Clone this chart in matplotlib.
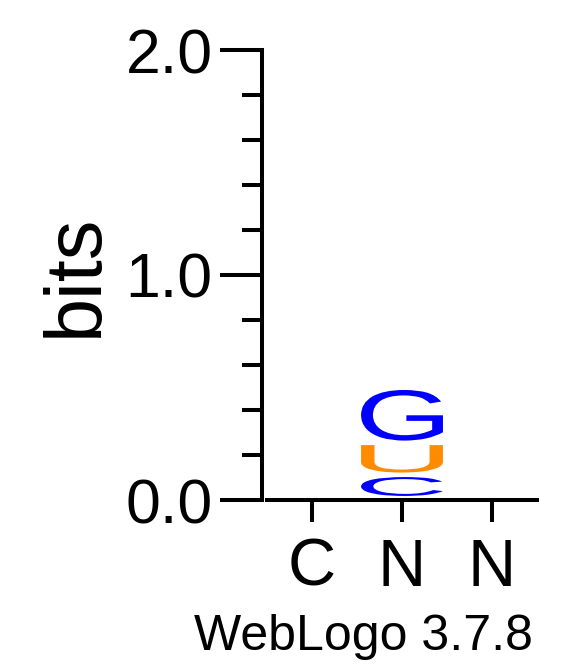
import matplotlib
matplotlib.use('Agg')
import matplotlib.pyplot as plt
from matplotlib.textpath import TextPath
from matplotlib.patches import PathPatch
from matplotlib.font_manager import FontProperties
from matplotlib.transforms import Affine2D
from matplotlib import ticker

# sequence logo data
positions = [1, 2, 3]
x_labels = ['C', 'N', 'N']
stack_pos = 2
stack_letters = ['C', 'U', 'G']          # bottom to top
stack_heights = [0.104, 0.142, 0.245]    # bits
letter_colors = {'C': '#0000ff', 'U': '#ff8c00', 'G': '#0000ff'}

plt.rcParams['font.family'] = ['Liberation Sans', 'DejaVu Sans']

fig = plt.figure(figsize=(5.83, 6.67), dpi=100)
ax = fig.add_axes([267 / 583, 167 / 667, 270 / 583, 450 / 667])
ax.set_xlim(0.5, 3.5)
ax.set_ylim(0, 2)

fp = FontProperties(family='Liberation Sans', weight='normal')


def draw_letter(ax, ch, x, y0, y1, width, color):
    tp = TextPath((0, 0), ch, size=1, prop=fp)
    bb = tp.get_extents()
    t = (Affine2D().translate(-bb.x0, -bb.y0)
         .scale(width / bb.width, (y1 - y0) / bb.height)
         .translate(x - width / 2, y0))
    ax.add_patch(PathPatch(t.transform_path(tp), fc=color, ec='none', lw=0))


base = 0.008
pad = 0.01
for ch, h in zip(stack_letters, stack_heights):
    draw_letter(ax, ch, stack_pos, base + pad, base + h - pad, 0.91, letter_colors[ch])
    base += h

# axes styling
lw = 2.9
for s in ['top', 'right']:
    ax.spines[s].set_visible(False)
ax.spines['left'].set_position(('outward', 3.6))
ax.spines['left'].set_linewidth(lw)
ax.spines['bottom'].set_linewidth(lw)

ax.set_yticks([0, 1, 2])
ax.set_yticklabels(['0.0', '1.0', '2.0'])
ax.yaxis.set_minor_locator(ticker.MultipleLocator(0.2))
ax.tick_params(axis='y', which='major', length=30, width=lw, labelsize=45, pad=5.5)
ax.tick_params(axis='y', which='minor', length=14.4, width=lw)

ax.set_xticks(positions)
ax.set_xticklabels(x_labels)
ax.tick_params(axis='x', length=16, width=lw, labelsize=48, pad=11)

fig.text(97 / 583, 1 - 275 / 667, 'bits', rotation=90, rotation_mode='anchor',
         ha='center', va='baseline', fontsize=57)
fig.text(363.5 / 583, 17 / 667, 'WebLogo 3.7.8', ha='center', va='baseline', fontsize=36)

fig.savefig('out.png', dpi=100)
